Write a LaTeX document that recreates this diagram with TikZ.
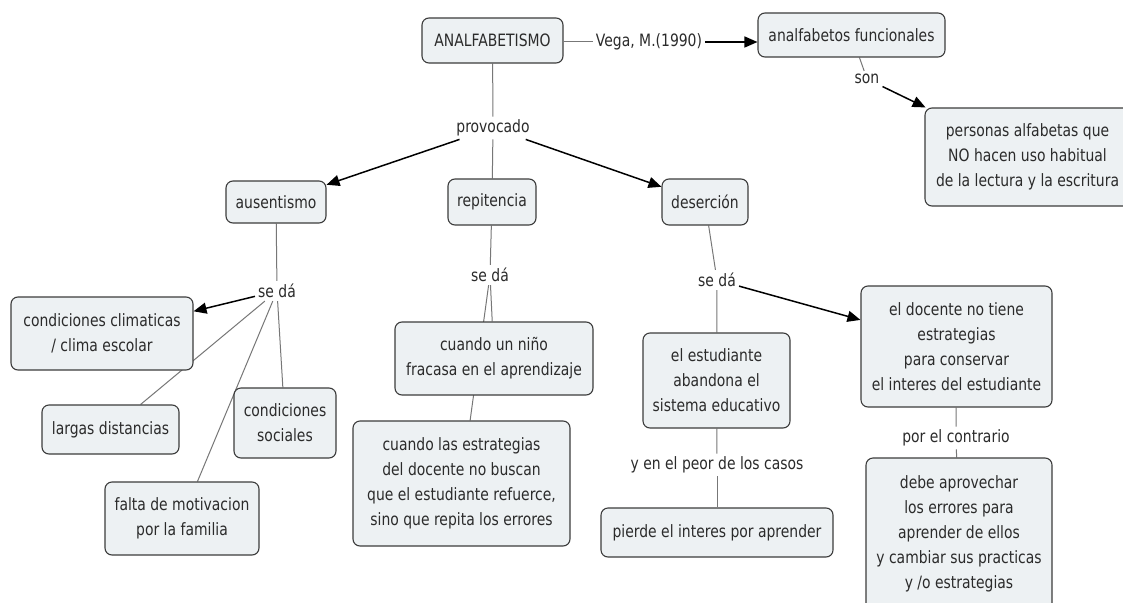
\documentclass[tikz,border=0pt]{standalone}
\usepackage{fontspec}
\setmainfont{DejaVu Sans}[FakeStretch=0.82]
\usetikzlibrary{arrows.meta,backgrounds}

\definecolor{fondocaja}{HTML}{EDF1F3}
\definecolor{bordecaja}{HTML}{3C3C3C}
\definecolor{texto}{HTML}{2B2B2B}
\definecolor{enlacegris}{HTML}{777777}

\tikzset{
  caja/.style={draw=bordecaja, fill=fondocaja, rounded corners=7pt, line width=1.1pt,
    align=center, text=texto, inner sep=0pt, font=\fontsize{17}{25}\selectfont},
  etiqueta/.style={text=texto, inner sep=3pt, font=\fontsize{17}{25}\selectfont},
  enlace/.style={draw=enlacegris, line width=1pt},
  flecha/.style={draw=black, line width=1.5pt, -{Triangle[length=13pt,width=11pt]}}
}

\begin{document}
\begin{tikzpicture}[x=1pt,y=-1pt]
        % Paso 1: Fija el lienzo
        \clip (0,0) rectangle (1123,602);

        % Paso 2: Concepto central y su cita
        \node[caja, minimum width=141pt, minimum height=45pt] (analf) at (492.5,40.5) {ANALFABETISMO};
        \node[etiqueta] (vega) at (649,42) {Vega, M.(1990)};
        \node[caja, minimum width=187pt, minimum height=44pt] (funcionales) at (851.5,35) {analfabetos funcionales};
        \node[etiqueta] (son) at (867,79) {son};
        \node[caja, minimum width=205pt, minimum height=98pt] (personas) at (1027.5,157)
            {personas alfabetas que\\NO hacen uso habitual\\de la lectura y la escritura};

        % Paso 3: Causas
        \node[etiqueta] (provocado) at (493,128) {provocado};
        \node[caja, minimum width=100pt, minimum height=42pt] (ausentismo) at (276,202) {ausentismo};
        \node[caja, minimum width=88pt, minimum height=46pt] (repitencia) at (492,202) {repitencia};
        \node[caja, minimum width=86pt, minimum height=46pt] (desercion) at (705,202) {deserción};

        % Paso 4: Rama del ausentismo
        \node[etiqueta] (sedaA) at (277,291) {se dá};
        \node[caja, minimum width=182pt, minimum height=73pt] (climaticas) at (102,333.5)
            {condiciones climaticas\\/ clima escolar};
        \node[caja, minimum width=137pt, minimum height=49pt] (largas) at (110.5,429.5) {largas distancias};
        \node[caja, minimum width=102pt, minimum height=70pt] (sociales) at (285,423) {condiciones\\sociales};
        \node[caja, minimum width=154pt, minimum height=73pt] (falta) at (182,518.5)
            {falta de motivacion\\por la familia};

        % Paso 5: Rama de la repitencia
        \node[etiqueta] (sedaB) at (490,275) {se dá};
        \node[caja, minimum width=198pt, minimum height=73pt] (nino) at (494,358.5)
            {cuando un niño\\fracasa en el aprendizaje};
        \node[caja, minimum width=217pt, minimum height=125pt] (estrategias) at (461.5,483.5)
            {cuando las estrategias\\del docente no buscan\\que el estudiante refuerce,\\sino que repita los errores};

        % Paso 6: Rama de la deserción
        \node[etiqueta] (sedaC) at (717,280) {se dá};
        \node[caja, minimum width=147pt, minimum height=95pt] (estudiante) at (716.5,380.5)
            {el estudiante\\abandona el\\sistema educativo};
        \node[etiqueta] (peor) at (717,465) {y en el peor de los casos};
        \node[caja, minimum width=232pt, minimum height=49pt] (pierde) at (717,532.5) {pierde el interes por aprender};
        \node[caja, minimum width=191pt, minimum height=121pt] (docente) at (956.5,346.5)
            {el docente no tiene\\estrategias\\para conservar\\el interes del estudiante};
        \node[etiqueta] (contrario) at (956,438) {por el contrario};
        \node[caja, minimum width=186pt, minimum height=152pt] (debe) at (959,534)
            {debe aprovechar\\los errores para\\aprender de ellos\\y cambiar sus practicas\\y /o estrategias};

        % Paso 7: Enlaces por debajo de las cajas
        \begin{scope}[on background layer]
            \fill[white] (0,0) rectangle (1123,602);
            \draw[enlace] (analf.east |- vega.west) -- (vega.west);
            \draw[flecha] (vega.east) -- (vega.east -| funcionales.west);
            \draw[enlace] (funcionales) -- (son);
            \draw[flecha] (son) -- (personas);
            \draw[enlace] (analf) -- (provocado);
            \draw[enlace] (provocado) -- (repitencia);
            \draw[flecha] (provocado) -- (ausentismo);
            \draw[flecha] (provocado) -- (desercion);
            \draw[enlace] (ausentismo) -- (sedaA);
            \draw[flecha] (sedaA) -- (climaticas);
            \draw[enlace] (sedaA) -- (largas);
            \draw[enlace] (sedaA) -- (falta);
            \draw[enlace] (sedaA) -- (sociales);
            \draw[enlace] (repitencia) -- (sedaB);
            \draw[enlace] (sedaB) -- (nino);
            \draw[enlace] (sedaB) -- (estrategias);
            \draw[enlace] (desercion) -- (sedaC);
            \draw[enlace] (sedaC) -- (estudiante);
            \draw[flecha] (sedaC) -- (docente);
            \draw[enlace] (estudiante) -- (peor);
            \draw[enlace] (peor) -- (pierde);
            \draw[enlace] (docente) -- (contrario);
            \draw[enlace] (contrario) -- (debe);
        \end{scope}
\end{tikzpicture}
\end{document}
